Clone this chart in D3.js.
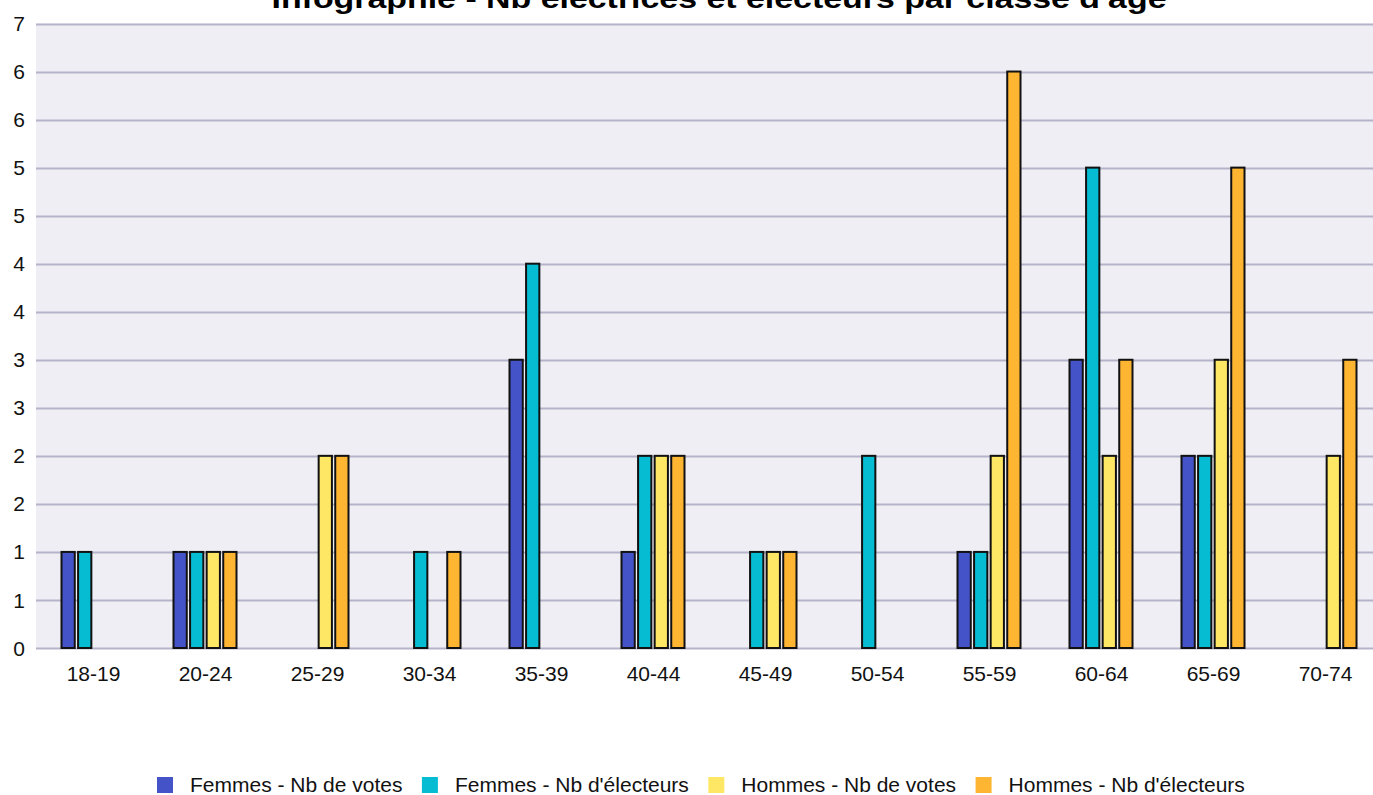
<!DOCTYPE html>
<html>
<head>
<meta charset="utf-8">
<script src="https://cdn.jsdelivr.net/npm/d3@7"></script>
<style>
  html, body { margin: 0; padding: 0; background: #ffffff; }
  svg { display: block; }
  text { font-family: "Liberation Sans", Arial, sans-serif; }
</style>
</head>
<body>
<svg id="chart" width="1373" height="795"></svg>
<script>
const title = "Infographie - Nb électrices et électeurs par classe d'âge";
const categories = ["18-19","20-24","25-29","30-34","35-39","40-44","45-49","50-54","55-59","60-64","65-69","70-74"];
const seriesNames = ["Femmes - Nb de votes","Femmes - Nb d'électeurs","Hommes - Nb de votes","Hommes - Nb d'électeurs"];
const femmesVotes    = [1,1,0,0,3,1,0,0,1,3,2,0];
const femmesElecteurs= [1,1,0,1,4,2,1,2,1,5,2,0];
const hommesVotes    = [0,1,2,0,0,2,1,0,2,2,3,2];
const hommesElecteurs= [0,1,2,1,0,2,1,0,6,3,5,3];
const seriesValues = [femmesVotes, femmesElecteurs, hommesVotes, hommesElecteurs];
const colors = ["#4453c8","#06bcd3","#ffe766","#feb532"];
const yTicks = [0,0.5,1,1.5,2,2.5,3,3.5,4,4.5,5,5.5,6,6.5];

const svg = d3.select("#chart");
const plot = {left: 37.5, right: 1381.5, top: 23.5, bottom: 648};

const x = d3.scaleBand().domain(categories).range([plot.left, plot.right]).padding(0);
const inner = d3.scaleBand().domain(d3.range(4)).range([-32, 31]).paddingInner(0.2).paddingOuter(0);
const y = d3.scaleLinear().domain([0, 6.5]).range([plot.bottom, plot.top]);

// plot background
svg.append("rect")
  .attr("x", 36).attr("y", plot.top)
  .attr("width", plot.right - 36).attr("height", plot.bottom - plot.top)
  .attr("fill", "#efeef4");

// gridlines
svg.append("g").selectAll("line").data(yTicks).join("line")
  .attr("x1", 36).attr("x2", plot.right)
  .attr("y1", d => Math.round(y(d)) + 0.5).attr("y2", d => Math.round(y(d)) + 0.5)
  .attr("stroke", "#b5b3ca").attr("stroke-width", 2);

// y labels
svg.append("g").selectAll("text").data(yTicks).join("text")
  .attr("x", 25).attr("y", d => y(d)).attr("dy", "0.36em")
  .attr("text-anchor", "end")
  .attr("font-size", 21).attr("fill", "#111")
  .text(d => d3.format(".0f")(Math.round(d + 1e-9)));

// bars
const barData = [];
categories.forEach((c, i) => {
  seriesValues.forEach((vals, s) => {
    if (vals[i] > 0) barData.push({cat: c, s: s, v: vals[i]});
  });
});
svg.append("g").selectAll("rect").data(barData).join("rect")
  .attr("x", d => x(d.cat) + x.bandwidth() / 2 + inner(d.s))
  .attr("y", d => y(d.v))
  .attr("width", inner.bandwidth())
  .attr("height", d => y(0) - y(d.v))
  .attr("fill", d => colors[d.s])
  .attr("stroke", "#111")
  .attr("stroke-width", 2);

// x labels
svg.append("g").selectAll("text").data(categories).join("text")
  .attr("x", d => x(d) + x.bandwidth() / 2)
  .attr("y", 681)
  .attr("text-anchor", "middle")
  .attr("font-size", 21).attr("fill", "#111")
  .text(d => d);

// title (partly cut at the top edge, as in the reference)
svg.append("text")
  .attr("x", 719).attr("y", 8)
  .attr("text-anchor", "middle")
  .attr("font-size", 28).attr("font-weight", "bold")
  .attr("font-family", "'DejaVu Sans', Verdana, sans-serif")
  .attr("textLength", 895).attr("lengthAdjust", "spacingAndGlyphs")
  .attr("fill", "#000")
  .text(title);

// legend
const lg = svg.append("g");
let lx = 157;
seriesNames.forEach((name, i) => {
  lg.append("rect").attr("x", lx).attr("y", 777).attr("width", 16).attr("height", 16).attr("fill", colors[i]);
  const t = lg.append("text").attr("x", lx + 33).attr("y", 792)
    .attr("font-size", 21).attr("fill", "#111").text(name);
  lx = lx + 33 + t.node().getComputedTextLength() + 19.5;
});
</script>
</body>
</html>
